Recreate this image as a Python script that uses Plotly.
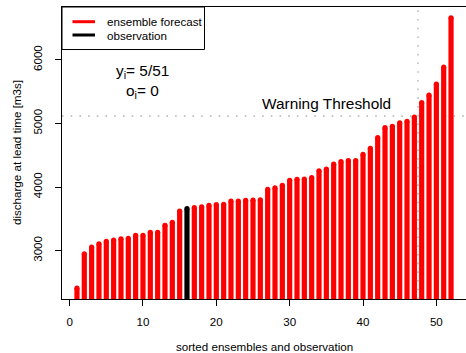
import plotly.graph_objects as go

# Sorted ensemble members (51) and the observed discharge [m3/s]
ensemble = [2409, 2950, 3055, 3107, 3144, 3165, 3186, 3191, 3239, 3239,
            3287, 3287, 3397, 3444, 3622, 3675, 3690, 3711, 3722, 3727,
            3780, 3780, 3790, 3795, 3800, 3964, 3985, 4027, 4105, 4121,
            4126, 4147, 4255, 4281, 4360, 4399, 4415, 4417, 4512, 4608,
            4777, 4934, 4956, 5008, 5034, 5098, 5328, 5444, 5617, 5885,
            6661]
observation = 3659
threshold = 5115
x_ticks = [0, 10, 20, 30, 40, 50]
y_ticks = [3000, 4000, 5000, 6000]

# combine members and observation, then sort
combined = sorted([(v, "ens") for v in ensemble] + [(observation, "obs")],
                  key=lambda t: t[0])
positions = list(range(1, len(combined) + 1))
values = [c[0] for c in combined]
kinds = [c[1] for c in combined]

n_exceed = sum(v > threshold for v in ensemble)
obs_exceed = int(observation > threshold)
# position separating members below/above the threshold
split_x = sum(v <= threshold for v in values) + 0.5

# R-style axis ranges (4% padding)
xr = (min(positions), max(positions))
yr = (min(values), max(values))
xpad = (xr[1] - xr[0]) * 0.04
ypad = (yr[1] - yr[0]) * 0.04
x_range = [xr[0] - xpad, xr[1] + xpad]
y_range = [yr[0] - ypad, yr[1] + ypad]

W, H = 466, 353
ML, MR, MT, MB = 62, 0, 7, 54
PW, PH = W - ML - MR, H - MT - MB

def px(xp):
    return (xp - ML) / PW

def py(yp):
    return (H - MB - yp) / PH

FONT = "Liberation Sans, Arial, Helvetica, sans-serif"
RED = "#FF0000"
LW = 5.2

fig = go.Figure()

for kind, color in (("ens", RED), ("obs", "#000000")):
    xs, ys, mx, my = [], [], [], []
    for p, v, k in zip(positions, values, kinds):
        if k != kind:
            continue
        xs += [p, p, None]
        ys += [0, v, None]
        mx.append(p)
        my.append(v)
    fig.add_trace(go.Scatter(x=xs, y=ys, mode="lines",
                             line=dict(color=color, width=LW),
                             hoverinfo="skip", showlegend=False))
    # round line ends
    fig.add_trace(go.Scatter(x=mx, y=my, mode="markers",
                             marker=dict(color=color, size=LW, line=dict(width=0)),
                             cliponaxis=True, showlegend=False))

grey_dot = dict(color="#bebebe", width=1.6, dash="1.6px,7.1px")
fig.add_shape(type="line", xref="paper", yref="y", x0=0, x1=1,
              y0=threshold, y1=threshold, line=grey_dot, layer="below")
fig.add_shape(type="line", xref="x", yref="paper", x0=split_x, x1=split_x,
              y0=0, y1=1, line=grey_dot, layer="below")

fig.add_annotation(x=35, y=threshold + 200, text="Warning Threshold",
                   showarrow=False, xanchor="center", yanchor="middle",
                   font=dict(family=FONT, size=15.4, color="#000000"))
fig.add_annotation(x=10, y=5820,
                   text=f"y<sub>i</sub>= {n_exceed}/{len(ensemble)}",
                   showarrow=False, xanchor="center", yanchor="middle",
                   font=dict(family=FONT, size=15.4, color="#000000"))
fig.add_annotation(x=10, y=5510, text=f"o<sub>i</sub>= {obs_exceed}",
                   showarrow=False, xanchor="center", yanchor="middle",
                   font=dict(family=FONT, size=15.4, color="#000000"))

# legend box
fig.add_shape(type="rect", xref="paper", yref="paper",
              x0=px(62), x1=px(204.5), y0=py(49.5), y1=py(7),
              line=dict(color="#000000", width=1), fillcolor="white")
for label, color, ly in (("ensemble forecast", RED, 21.7),
                         ("observation", "#000000", 35)):
    fig.add_shape(type="line", xref="paper", yref="paper",
                  x0=px(72.5), x1=px(95), y0=py(ly), y1=py(ly),
                  line=dict(color=color, width=3))
    fig.add_annotation(xref="paper", yref="paper", x=px(104.5), y=py(ly),
                       text=label, showarrow=False, xanchor="left",
                       yanchor="middle",
                       font=dict(family=FONT, size=11.6, color="#000000"))

# axis titles
fig.add_annotation(xref="paper", yref="paper", x=0.5, y=0, yshift=-(346.5 - (H - MB)),
                   text="sorted ensembles and observation", showarrow=False,
                   xanchor="center", yanchor="middle",
                   font=dict(family=FONT, size=11.6, color="#000000"))
fig.add_annotation(xref="paper", yref="paper", x=0, y=0.5, xshift=-(ML - 16),
                   text="discharge at lead time [m3s]", showarrow=False,
                   textangle=-90, xanchor="center", yanchor="middle",
                   font=dict(family=FONT, size=11.6, color="#000000"))

axis_common = dict(showgrid=False, zeroline=False, showline=True,
                   linecolor="#000000", linewidth=1, mirror=True,
                   ticks="outside", ticklen=6, tickcolor="#000000",
                   tickfont=dict(family=FONT, size=11.6, color="#000000"))

fig.update_layout(
    width=W, height=H,
    margin=dict(l=ML, r=MR, t=MT, b=MB),
    paper_bgcolor="white", plot_bgcolor="white",
    showlegend=False,
    xaxis=dict(range=x_range, tickvals=x_ticks, ticklabelstandoff=6,
               **axis_common),
    yaxis=dict(range=y_range, tickvals=y_ticks, tickangle=-90,
               ticklabelstandoff=8, **axis_common),
)

fig.write_html("out.html")
